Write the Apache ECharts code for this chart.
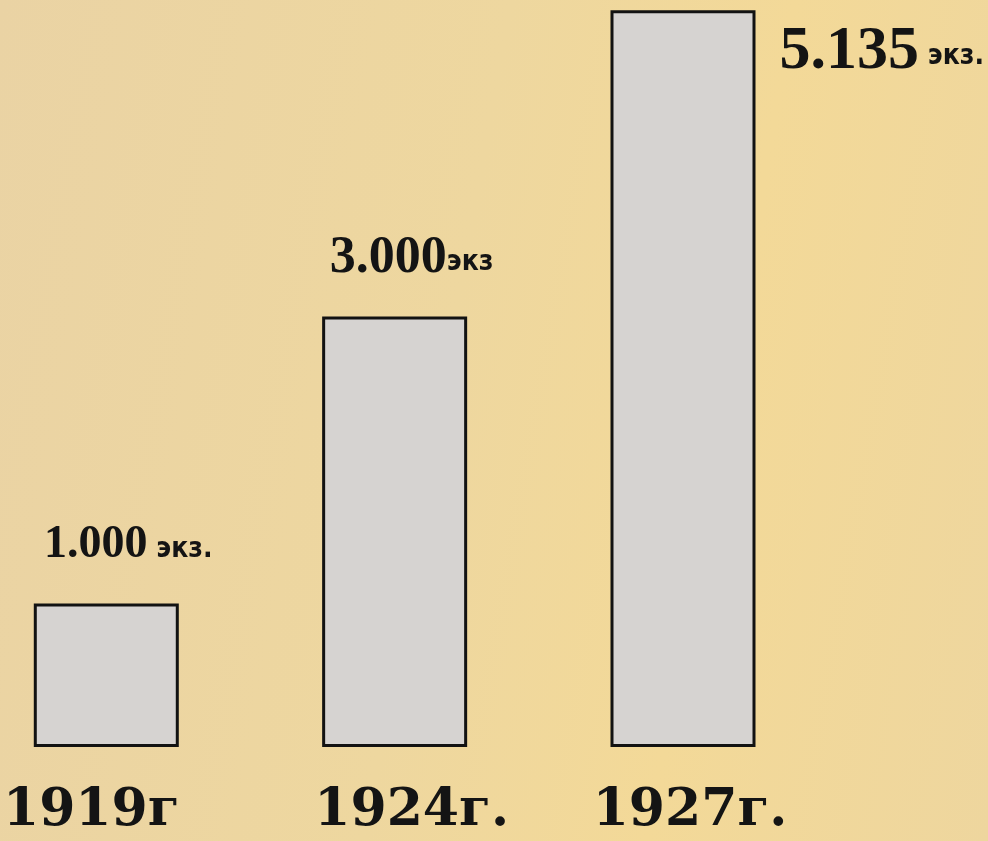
<!DOCTYPE html>
<html>
<head>
<meta charset="utf-8">
<script src="https://cdn.jsdelivr.net/npm/echarts@6/dist/echarts.min.js"></script>
<style>
html,body{margin:0;padding:0;}
body{width:988px;height:841px;background:linear-gradient(100deg,#ead3a4 0%,#eed79f 45%,#f3d998 70%,#eed69e 100%);}
#c{width:988px;height:841px;}
</style>
</head>
<body>
<div id="c"></div>
<script>
const years = ['1919г', '1924г.', '1927г.'];
const copies = [1000, 3000, 5135];
const valueTexts = ['1.000', '3.000', '5.135'];
const unitTexts = [' экз.', 'экз', ' экз.'];

const chart = echarts.init(document.getElementById('c'), null, {renderer: 'canvas'});

const labelPlacement = [
  {position: ['50%', 0], align: 'center', verticalAlign: 'middle', offset: [22, -58], n: 'n1'},
  {position: ['50%', 0], align: 'center', verticalAlign: 'middle', offset: [17, -58], n: 'n2'},
  {position: ['100%', 0], align: 'left', verticalAlign: 'middle', offset: [24, 42], n: 'n3'}
];
const yearPadding = [[0, 30, 0, 0], [0, 0, 0, 34], [0, 0, 0, 14]];

const data = copies.map((v, i) => ({
  value: v,
  label: {
    show: true,
    position: labelPlacement[i].position,
    align: labelPlacement[i].align,
    verticalAlign: labelPlacement[i].verticalAlign,
    offset: labelPlacement[i].offset,
    formatter: '{' + labelPlacement[i].n + '|' + valueTexts[i] + '}{u|' + unitTexts[i] + '}'
  }
}));

const serifBold = {fontFamily: 'Liberation Serif', fontWeight: 'bold', color: '#141414'};

chart.setOption({
  backgroundColor: 'transparent',
  animation: false,
  grid: {left: 105, width: 578, top: 1, height: 746, containLabel: false},
  xAxis: {
    type: 'category',
    boundaryGap: false,
    data: years.map((y, i) => ({value: y, textStyle: {padding: yearPadding[i]}})),
    axisLine: {show: false},
    axisTick: {show: false},
    axisLabel: {
      margin: 38,
      fontFamily: 'DejaVu Serif',
      fontWeight: 'bold',
      fontSize: 52,
      color: '#141414',
      interval: 0
    }
  },
  yAxis: {
    type: 'value',
    min: 0,
    max: 5200,
    show: false,
    splitLine: {show: false}
  },
  series: [{
    type: 'bar',
    data: data,
    barWidth: 145,
    itemStyle: {color: '#d6d3d1', borderColor: '#121212', borderWidth: 3},
    label: {
      show: true,
      rich: {
        n1: Object.assign({fontSize: 46}, serifBold),
        n2: Object.assign({fontSize: 52}, serifBold),
        n3: Object.assign({fontSize: 62}, serifBold),
        u: {fontFamily: 'DejaVu Sans Condensed', fontWeight: 'bold', fontSize: 28, color: '#141414', padding: [8, 0, 0, 0]}
      }
    }
  }]
});
</script>
</body>
</html>
